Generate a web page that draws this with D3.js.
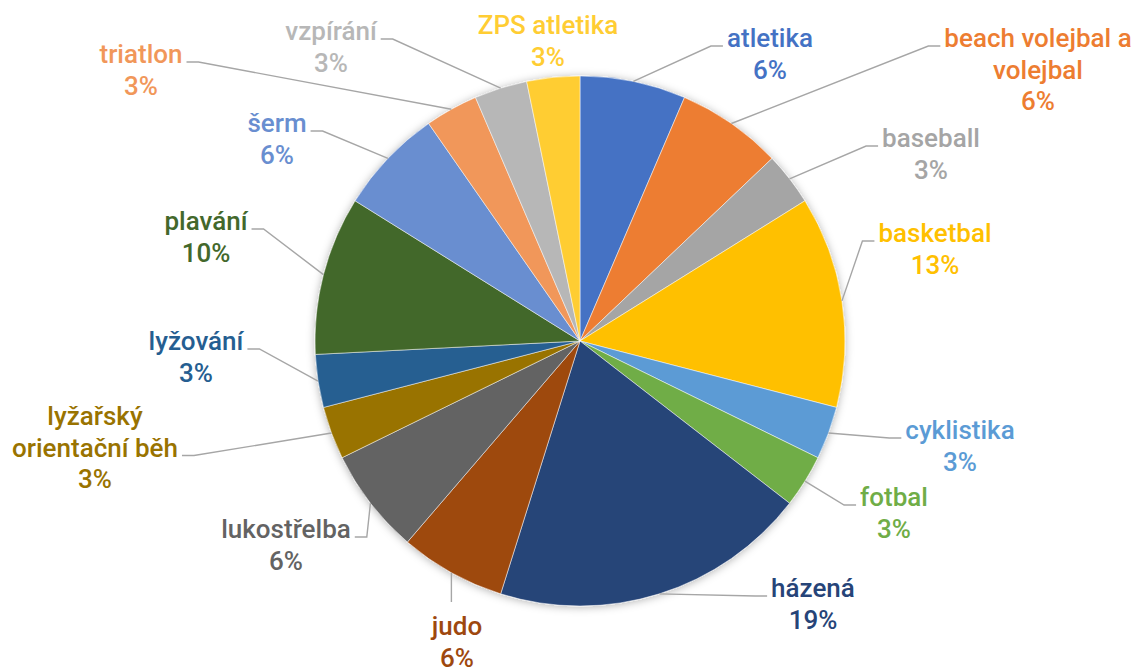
<!DOCTYPE html>
<html>
<head>
<meta charset="utf-8">
<script src="https://cdn.jsdelivr.net/npm/d3@7"></script>
<style>
  html, body { margin: 0; padding: 0; background: #ffffff; }
  svg { display: block; }
  text { font-family: Roboto, "Noto Sans", sans-serif; font-weight: 500; font-size: 26px; }
</style>
</head>
<body>
<svg id="chart" width="1138" height="671"></svg>
<script>
// ---- data ----
const categories = ["atletika", "beach volejbal a volejbal", "baseball", "basketbal", "cyklistika", "fotbal",
  "házená", "judo", "lukostřelba", "lyžařský orientační běh", "lyžování", "plavání", "šerm", "triatlon",
  "vzpírání", "ZPS atletika"];
const counts = [2, 2, 1, 4, 1, 1, 6, 2, 2, 1, 1, 3, 2, 1, 1, 1];
const labelLines = [["atletika"], ["beach volejbal a", "volejbal"], ["baseball"], ["basketbal"], ["cyklistika"],
  ["fotbal"], ["házená"], ["judo"], ["lukostřelba"], ["lyžařský", "orientační běh"], ["lyžování"], ["plavání"],
  ["šerm"], ["triatlon"], ["vzpírání"], ["ZPS atletika"]];

// ---- styles / layout ----
const colors = ["#4472C4", "#ED7D31", "#A5A5A5", "#FFC000", "#5B9BD5", "#70AD47", "#264478", "#9E480E",
  "#636363", "#997300", "#255E91", "#43682B", "#698ED0", "#F1975A", "#B7B7B7", "#FFCD33"];
// label centre x, first-line baseline y, side of the leader stub
const labelLayout = [
  [770, 47, "l"], [1038, 47, "l"], [931, 147, "l"], [935, 242, "l"], [960, 439, "l"], [894, 506, "l"],
  [813, 597, "l"], [457, 635, "top"], [286, 538, "r"], [95, 425, "r"], [196, 350, "r"], [206, 230, "r"],
  [277, 132, "r"], [141, 63, "r"], [331, 40, "r"], [548, 34, "none"]
];
const cx = 580, cy = 341, R = 265, lineH = 31.5;

const svg = d3.select("#chart");
const defs = svg.append("defs");
const f = defs.append("filter").attr("id", "shadow").attr("x", "-20%").attr("y", "-20%").attr("width", "140%").attr("height", "140%");
f.append("feDropShadow").attr("dx", 0).attr("dy", 1).attr("stdDeviation", 4)
  .attr("flood-color", "#000").attr("flood-opacity", 0.3);

const total = d3.sum(counts);
const pie = d3.pie().sort(null).value(d => d)(counts);
const arc = d3.arc().innerRadius(0).outerRadius(R);

const g = svg.append("g").attr("transform", `translate(${cx},${cy})`);
g.append("g").attr("filter", "url(#shadow)")
  .selectAll("path").data(pie).join("path")
  .attr("d", arc)
  .attr("fill", (d, i) => colors[i])
  .attr("stroke", "#ffffff")
  .attr("stroke-width", 0.5);

const labels = svg.append("g");
const leaders = svg.append("g");

pie.forEach((d, i) => {
  const [lx, ly, side] = labelLayout[i];
  const lines = labelLines[i].concat([Math.round(counts[i] / total * 100) + "%"]);
  const t = labels.append("text").attr("text-anchor", "middle").attr("fill", colors[i]);
  const tspans = lines.map((s, k) => t.append("tspan").attr("x", lx).attr("y", ly + k * lineH).text(s));
  if (side === "none") return;
  const a = (d.startAngle + d.endAngle) / 2;
  const ex = cx + R * Math.sin(a), ey = cy - R * Math.cos(a);
  let pts;
  if (side === "top") {
    pts = [[ex, ly - 33], [ex, ey]];
  } else {
    // attach to widest text line (excluding percent)
    let wi = 0, wmax = 0;
    labelLines[i].forEach((s, k) => {
      const w = tspans[k].node().getComputedTextLength();
      if (w > wmax) { wmax = w; wi = k; }
    });
    const yL = ly + wi * lineH - 1;
    const x0 = side === "l" ? lx - wmax / 2 - 4 : lx + wmax / 2 + 4;
    const x1 = side === "l" ? x0 - 12 : x0 + 12;
    pts = [[x0, yL], [x1, yL], [ex, ey]];
  }
  leaders.append("path")
    .attr("d", d3.line()(pts))
    .attr("fill", "none")
    .attr("stroke", "#A6A6A6")
    .attr("stroke-width", 1.4);
});
</script>
</body>
</html>
